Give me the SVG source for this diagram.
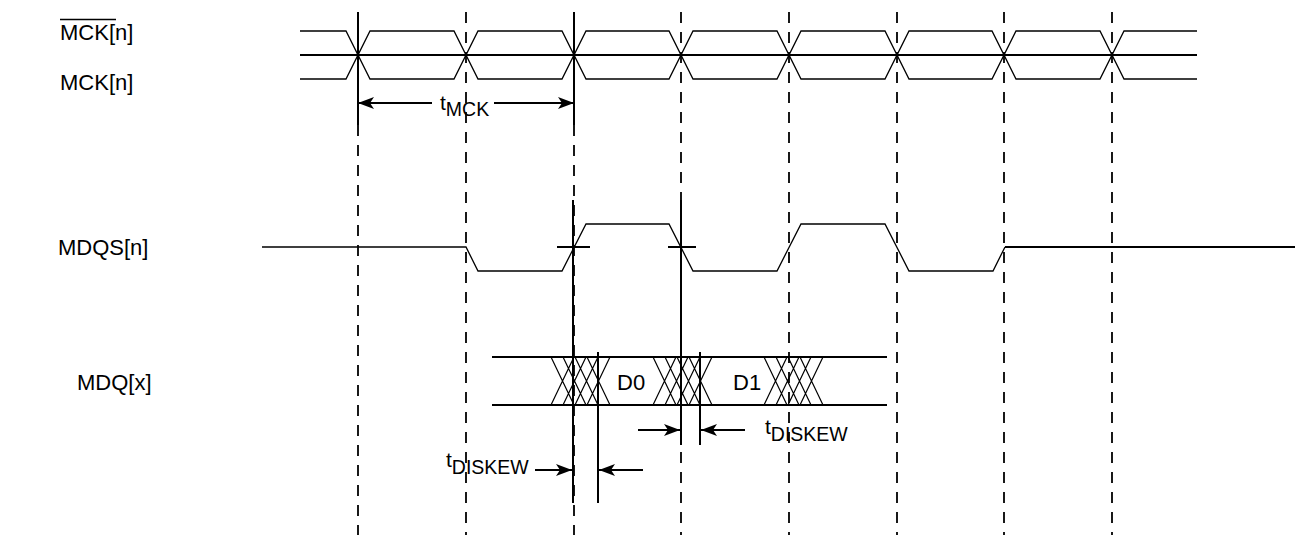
<svg xmlns="http://www.w3.org/2000/svg" width="1295" height="540" viewBox="0 0 1295 540">
<style>
text{font-family:"Liberation Sans",Arial,sans-serif;font-size:22px;fill:#000}
.t{font-size:21px}
.sub{font-size:19.5px}
.w{fill:none;stroke:#000;stroke-width:1.3;stroke-linejoin:miter}
.thick{fill:none;stroke:#000;stroke-width:2}
.dash{fill:none;stroke:#000;stroke-width:1.8;stroke-dasharray:11 9}
.sol{fill:none;stroke:#000;stroke-width:2}
.x{fill:none;stroke:#000;stroke-width:1.2}
.arr{fill:none;stroke:#000;stroke-width:2;marker-end:url(#ah)}
</style>
<defs>
<marker id="ah" markerUnits="userSpaceOnUse" markerWidth="17" markerHeight="12" refX="16" refY="6" orient="auto">
<path d="M0,0 L16,6 L0,12 L4,6 z" fill="#000"/>
</marker>
</defs>
<g id="labels">
<text x="60" y="40">MCK[n]</text>
<line x1="60" y1="19.5" x2="116" y2="19.5" stroke="#000" stroke-width="1.5"/>
<text x="60" y="90">MCK[n]</text>
<text x="58" y="255">MDQS[n]</text>
<text x="77" y="390">MDQ[x]</text>
</g>
<g id="gridlines">
<line class="dash" x1="358" y1="125" x2="358" y2="535"/>
<line class="dash" x1="466" y1="12" x2="466" y2="535"/>
<line class="dash" x1="574" y1="125" x2="574" y2="535"/>
<line class="dash" x1="681" y1="12" x2="681" y2="535"/>
<line class="dash" x1="789" y1="12" x2="789" y2="535"/>
<line class="dash" x1="897" y1="12" x2="897" y2="535"/>
<line class="dash" x1="1004" y1="12" x2="1004" y2="535"/>
<line class="dash" x1="1112" y1="12" x2="1112" y2="535"/>
<line class="sol" x1="358" y1="12" x2="358" y2="125"/>
<line class="sol" x1="574" y1="12" x2="574" y2="125"/>
<line class="sol" x1="573" y1="200" x2="573" y2="503"/>
<line class="sol" x1="598" y1="352" x2="598" y2="503"/>
<line class="sol" x1="681" y1="200" x2="681" y2="445"/>
<line class="sol" x1="700" y1="352" x2="700" y2="445"/>
</g>
<g id="mck">
<path class="w" d="M300,31 L346,31 L370,79 L454,79 L478,31 L562,31 L586,79 L669,79 L693,31 L777,31 L801,79 L885,79 L909,31 L992,31 L1016,79 L1100,79 L1124,31 L1197,31"/>
<path class="w" d="M300,79 L346,79 L370,31 L454,31 L478,79 L562,79 L586,31 L669,31 L693,79 L777,79 L801,31 L885,31 L909,79 L992,79 L1016,31 L1100,31 L1124,79 L1197,79"/>
<line class="thick" x1="300" y1="55" x2="1197" y2="55"/>
</g>
<g id="mdqs">
<path class="w" d="M262,247 H466 L478,271 H562 L586,224 H669 L693,271 H777 L801,224 H885 L909,271 H993 L1005,247"/>
<line class="thick" x1="1005" y1="247" x2="1295" y2="247"/>
<line class="thick" x1="557" y1="247" x2="590" y2="247"/>
<line class="thick" x1="668" y1="247" x2="696" y2="247"/>
</g>
<g id="mdq">
<line class="thick" x1="492" y1="357" x2="887" y2="357"/>
<line class="thick" x1="492" y1="405" x2="887" y2="405"/>
<path class="x" d="M551,357 L574,405 M551,405 L574,357 M563,357 L586,405 M563,405 L586,357 M575,357 L598,405 M575,405 L598,357 M587,357 L610,405 M587,405 L610,357"/>
<path class="x" d="M653,357 L676,405 M653,405 L676,357 M665,357 L688,405 M665,405 L688,357 M677,357 L700,405 M677,405 L700,357 M689,357 L712,405 M689,405 L712,357"/>
<path class="x" d="M764,357 L787,405 M764,405 L787,357 M776,357 L799,405 M776,405 L799,357 M788,357 L811,405 M788,405 L811,357 M800,357 L823,405 M800,405 L823,357"/>
<text x="617" y="390">D0</text>
<text x="733" y="390">D1</text>
</g>
<g id="connectors">
<line class="arr" x1="432" y1="103" x2="358" y2="103"/>
<line class="arr" x1="494" y1="103" x2="574" y2="103"/>
<line class="arr" x1="638" y1="430" x2="680" y2="430"/>
<line class="arr" x1="745" y1="430" x2="701" y2="430"/>
<line class="arr" x1="535" y1="470" x2="572" y2="470"/>
<line class="arr" x1="643" y1="470" x2="599" y2="470"/>
</g>
<g id="timing-labels">
<text class="t" x="440" y="110">t<tspan class="sub" dy="6">MCK</tspan></text>
<text class="t" x="765" y="434">t<tspan class="sub" dy="7">DISKEW</tspan></text>
<text class="t" x="446" y="467">t<tspan class="sub" dy="7">DISKEW</tspan></text>
</g>
</svg>
